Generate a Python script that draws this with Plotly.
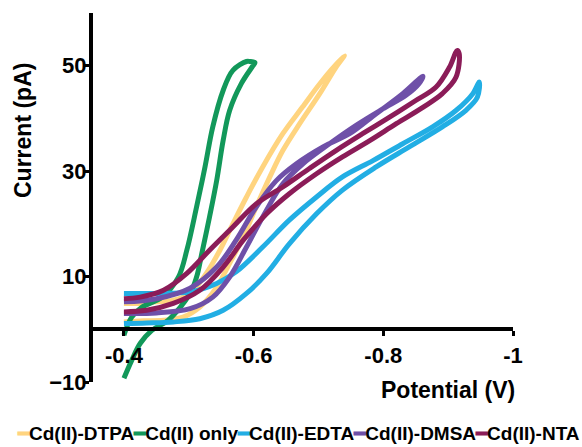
import plotly.graph_objects as go

# ---- data (potential V, current pA) ----
names = ["Cd(II)-DTPA", "Cd(II) only", "Cd(II)-EDTA", "Cd(II)-DMSA", "Cd(II)-NTA"]
colors = ["#FFD47F", "#12985A", "#22AEE4", "#6F50A8", "#8B1C58"]

dtpa_x = [-0.40, -0.425, -0.45, -0.476, -0.502, -0.527, -0.548, -0.568, -0.589, -0.614, -0.645, -0.675, -0.706, -0.74,
          -0.727, -0.702, -0.671, -0.645, -0.625, -0.604, -0.584, -0.563, -0.543, -0.517, -0.491, -0.461, -0.43, -0.40]
dtpa_y = [4.9, 4.9, 5.2, 5.5, 6.8, 10.6, 15.0, 20.0, 25.1, 30.8, 37.1, 42.1, 47.2, 51.9,
          49.7, 44.7, 39.0, 33.9, 28.9, 23.2, 17.5, 12.5, 8.0, 4.2, 2.3, 1.7, 1.6, 1.4]

cd_x = [-0.40, -0.412, -0.425, -0.443, -0.468, -0.502, -0.512, -0.520, -0.532, -0.543, -0.553, -0.563, -0.581, -0.599, -0.602,
        -0.594, -0.589, -0.568, -0.553, -0.537, -0.525, -0.512, -0.497, -0.484, -0.459, -0.428, -0.412, -0.40]
cd_y = [-9.3, -5.9, -2.7, -0.2, 1.7, 6.8, 9.9, 14.3, 21.3, 28.2, 35.8, 41.5, 46.6, 50.0, 50.6,
        50.8, 50.8, 49.1, 45.3, 38.4, 30.8, 23.2, 15.0, 9.9, 6.1, 4.2, 2.3, -1.1]

edta_x = [-0.40, -0.45, -0.502, -0.543, -0.573, -0.614, -0.655, -0.697, -0.737, -0.784, -0.83, -0.876, -0.912, -0.938, -0.948,
          -0.945, -0.927, -0.891, -0.84, -0.789, -0.737, -0.697, -0.655, -0.62, -0.589, -0.553, -0.517, -0.476, -0.435, -0.40]
edta_y = [6.8, 6.8, 7.1, 8.7, 10.9, 15.6, 20.7, 25.1, 28.9, 32.0, 35.2, 38.4, 41.5, 44.7, 46.9,
          44.0, 41.5, 38.4, 34.6, 30.8, 26.4, 21.9, 16.2, 10.6, 6.8, 3.6, 2.0, 1.4, 1.2, 1.1]

dmsa_x = [-0.40, -0.45, -0.502, -0.543, -0.573, -0.604, -0.635, -0.666, -0.707, -0.748, -0.789, -0.83, -0.861,
          -0.855, -0.835, -0.799, -0.758, -0.717, -0.676, -0.645, -0.614, -0.589, -0.563, -0.537, -0.502, -0.45, -0.40]
dmsa_y = [5.2, 5.8, 7.8, 11.8, 16.9, 23.2, 28.2, 31.4, 34.6, 37.1, 40.9, 44.7, 48.0,
          46.6, 44.4, 41.8, 38.7, 35.2, 31.4, 27.6, 21.3, 15.6, 9.9, 6.1, 3.9, 3.1, 3.0]

nta_x = [-0.40, -0.425, -0.461, -0.497, -0.532, -0.568, -0.604, -0.645, -0.686, -0.727, -0.768, -0.809, -0.85, -0.881, -0.902, -0.914,
         -0.917, -0.912, -0.891, -0.861, -0.82, -0.779, -0.737, -0.697, -0.655, -0.62, -0.584, -0.553, -0.517, -0.476, -0.435, -0.40]
nta_y = [5.8, 6.1, 7.4, 10.6, 15.0, 19.4, 23.8, 27.0, 30.5, 33.9, 37.1, 40.2, 43.4, 45.9, 49.7, 52.9,
         52.3, 47.8, 44.7, 42.1, 39.0, 35.8, 32.7, 29.5, 25.7, 21.9, 16.9, 11.8, 7.4, 4.9, 3.6, 3.3]

series_x = [dtpa_x, cd_x, edta_x, dmsa_x, nta_x]
series_y = [dtpa_y, cd_y, edta_y, dmsa_y, nta_y]

x_tickvals = [-0.4, -0.6, -0.8, -1.0]
x_ticktext = ["-0.4", "-0.6", "-0.8", "-1"]
y_tickvals = [-10, 10, 30, 50]

FONT = "Liberation Sans, Arial, sans-serif"

fig = go.Figure()
for nm, c, xs, ys in zip(names, colors, series_x, series_y):
    fig.add_trace(go.Scatter(x=xs, y=ys, name=nm, mode="lines",
                             line=dict(color=c, width=5, shape="spline", smoothing=1.0),
                             showlegend=False))

fig.update_layout(
    width=582, height=447,
    margin=dict(l=93, r=69, t=13, b=65),
    paper_bgcolor="white", plot_bgcolor="white",
    font=dict(family=FONT, color="black"),
    xaxis=dict(range=[-0.3523, -1.0], anchor="free", position=10 / 70,
               showline=True, linecolor="black", linewidth=4,
               ticks="outside", ticklen=5, tickwidth=3, tickcolor="black",
               tickvals=x_tickvals, ticktext=x_ticktext,
               tickfont=dict(size=22, family=FONT, weight="bold"),
               showgrid=False, zeroline=False, automargin=False),
    yaxis=dict(range=[-10, 60], showline=True, linecolor="black", linewidth=4,
               ticks="outside", ticklen=6, tickwidth=3, tickcolor="black",
               tickvals=y_tickvals, tickfont=dict(size=22, family=FONT, weight="bold"),
               ticklabelstandoff=-8,
               showgrid=False, zeroline=False, automargin=False),
)

fig.add_annotation(text="<b>Potential (V)</b>", xref="paper", yref="paper",
                   x=(517 - 93) / 420, y=(382 - 390) / 369, xanchor="right", yanchor="middle",
                   showarrow=False, font=dict(size=23, family=FONT))
fig.add_annotation(text="<b>Current (pA)</b>", xref="paper", yref="paper",
                   x=(23 - 93) / 420, y=(382 - 131) / 369, xanchor="center", yanchor="middle",
                   textangle=-90, showarrow=False, font=dict(size=23, family=FONT))

legend_text = "".join(
    f'<span style="color:{c}">━</span>{nm}' for nm, c in zip(names, colors))
fig.add_annotation(text=f"<b>{legend_text}</b>", xref="paper", yref="paper",
                   x=(298 - 93) / 420, y=(382 - 433) / 369, xanchor="center", yanchor="middle",
                   showarrow=False, font=dict(size=19, family=FONT))

fig.write_html("out.html", config={"displayModeBar": False},
               post_script="document.body.style.margin='0';document.body.style.padding='0';")
